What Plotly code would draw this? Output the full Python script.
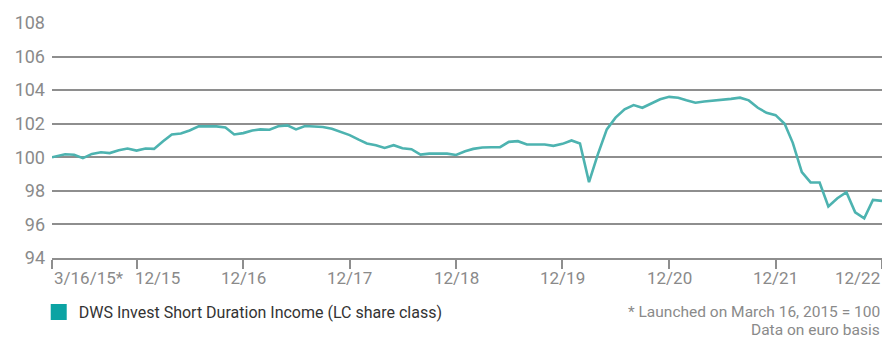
import plotly.graph_objects as go

# Fund performance, indexed to 100 at launch (euro basis)
dates = (
    ["2015-03-16", "2015-04-30", "2015-05-31", "2015-06-30", "2015-07-31", "2015-08-31",
     "2015-09-30", "2015-10-31", "2015-11-30", "2015-12-31"]
    + [f"{y}-{m:02d}-{d:02d}" for y in range(2016, 2023)
       for m, d in [(1, 31), (2, 29 if y % 4 == 0 else 28), (3, 31), (4, 30), (5, 31), (6, 30),
                    (7, 31), (8, 31), (9, 30), (10, 31), (11, 30), (12, 31)]]
)

values = [
    100.0, 100.18, 100.15, 99.95, 100.2, 100.3, 100.25, 100.42, 100.52, 100.4,
    100.52, 100.5, 100.96, 101.36, 101.42, 101.6, 101.84, 101.84, 101.84, 101.78, 101.36, 101.44,
    101.6, 101.66, 101.64, 101.85, 101.9, 101.66, 101.86, 101.83, 101.8, 101.7, 101.5, 101.32,
    101.05, 100.82, 100.72, 100.56, 100.72, 100.54, 100.48, 100.16, 100.22, 100.22, 100.22, 100.14,
    100.36, 100.5, 100.58, 100.6, 100.6, 100.92, 100.96, 100.76, 100.76, 100.76, 100.68, 100.8,
    101.0, 100.82, 98.52, 100.16, 101.66, 102.36, 102.86, 103.11, 102.95, 103.2, 103.46, 103.6,
    103.55, 103.4, 103.25, 103.32, 103.36, 103.4, 103.48, 103.55, 103.39, 102.95, 102.65, 102.51,
    102.0, 100.86, 99.12, 98.5, 98.5, 97.07, 97.56, 97.92, 96.72, 96.36, 97.46, 97.4,
]

tick_dates = ["2015-03-16", "2015-12-31", "2016-12-31", "2017-12-31", "2018-12-31",
              "2019-12-31", "2020-12-31", "2021-12-31", "2022-12-31"]
tick_labels = ["3/16/15*", "12/15", "12/16", "12/17", "12/18", "12/19", "12/20", "12/21", "12/22"]

y_ticks = [94, 96, 98, 100, 102, 104, 106, 108]

series_name = "DWS Invest Short Duration Income (LC share class)"
footnote_1 = "* Launched on March 16, 2015 = 100"
footnote_2 = "Data on euro basis"

LINE_COLOR = "#4db3b0"
SWATCH_COLOR = "#0ba3a3"
GRID_COLOR = "#8e8e8e"
LABEL_COLOR = "#8a8a8a"
FONT = "Roboto, 'Open Sans', sans-serif"

W, H = 882, 338
M_L, M_R, M_T, M_B = 52, 0, 23, 80
plot_h = H - M_T - M_B


def paper_y(px):
    """Convert a pixel row (from the top of the page) to paper coordinates."""
    return -(px - (H - M_B)) / plot_h


fig = go.Figure()

fig.add_trace(go.Scatter(
    x=dates, y=values, mode="lines",
    line=dict(color=LINE_COLOR, width=2.6),
    showlegend=False, hoverinfo="x+y",
))

# legend entry with a square swatch
fig.add_trace(go.Scatter(
    x=[None], y=[None], mode="markers", name=series_name,
    marker=dict(symbol="square", size=16, color=SWATCH_COLOR),
    showlegend=True,
))

annotations = []
last = len(tick_dates) - 1
for i, (d, lab) in enumerate(zip(tick_dates, tick_labels)):
    if i == 0:
        anchor, shift = "left", 0
    elif i == 1:
        anchor, shift = "left", -4
    elif i == last:
        anchor, shift = "right", 0
    else:
        anchor, shift = "center", 0
    annotations.append(dict(
        x=d, xref="x", y=paper_y(278), yref="paper", xshift=shift,
        text=lab, showarrow=False, xanchor=anchor, yanchor="middle",
        font=dict(family=FONT, size=17, color=LABEL_COLOR),
    ))

annotations.append(dict(
    x=1, xref="paper", y=paper_y(312), yref="paper",
    text=footnote_1, showarrow=False, xanchor="right", yanchor="middle",
    font=dict(family=FONT, size=15.5, color=LABEL_COLOR),
))
annotations.append(dict(
    x=1, xref="paper", y=paper_y(330), yref="paper",
    text=footnote_2, showarrow=False, xanchor="right", yanchor="middle",
    font=dict(family=FONT, size=15.5, color=LABEL_COLOR),
))

fig.update_layout(
    width=W, height=H,
    margin=dict(l=M_L, r=M_R, t=M_T, b=M_B),
    paper_bgcolor="white", plot_bgcolor="white",
    font=dict(family=FONT),
    showlegend=True,
    legend=dict(
        orientation="h", x=-0.016, xanchor="left",
        y=paper_y(312), yanchor="middle",
        font=dict(family=FONT, size=16, color="#333333"),
        bgcolor="rgba(0,0,0,0)",
    ),
    annotations=annotations,
    xaxis=dict(
        type="date",
        range=["2015-03-16", "2022-12-31"],
        tickmode="array", tickvals=tick_dates,
        showticklabels=False,
        ticks="outside", ticklen=9, tickwidth=2, tickcolor=GRID_COLOR,
        showgrid=False, zeroline=False,
        showline=True, linecolor=GRID_COLOR, linewidth=2,
        fixedrange=True,
    ),
    yaxis=dict(
        range=[94, 108],
        tickmode="array", tickvals=y_ticks,
        ticktext=[str(v) for v in y_ticks],
        tickfont=dict(family=FONT, size=18, color=LABEL_COLOR),
        ticklabelstandoff=6,
        showgrid=True, gridcolor=GRID_COLOR, gridwidth=2,
        zeroline=False, showline=False, ticks="",
        fixedrange=True,
    ),
)

fig.write_html("out.html")
